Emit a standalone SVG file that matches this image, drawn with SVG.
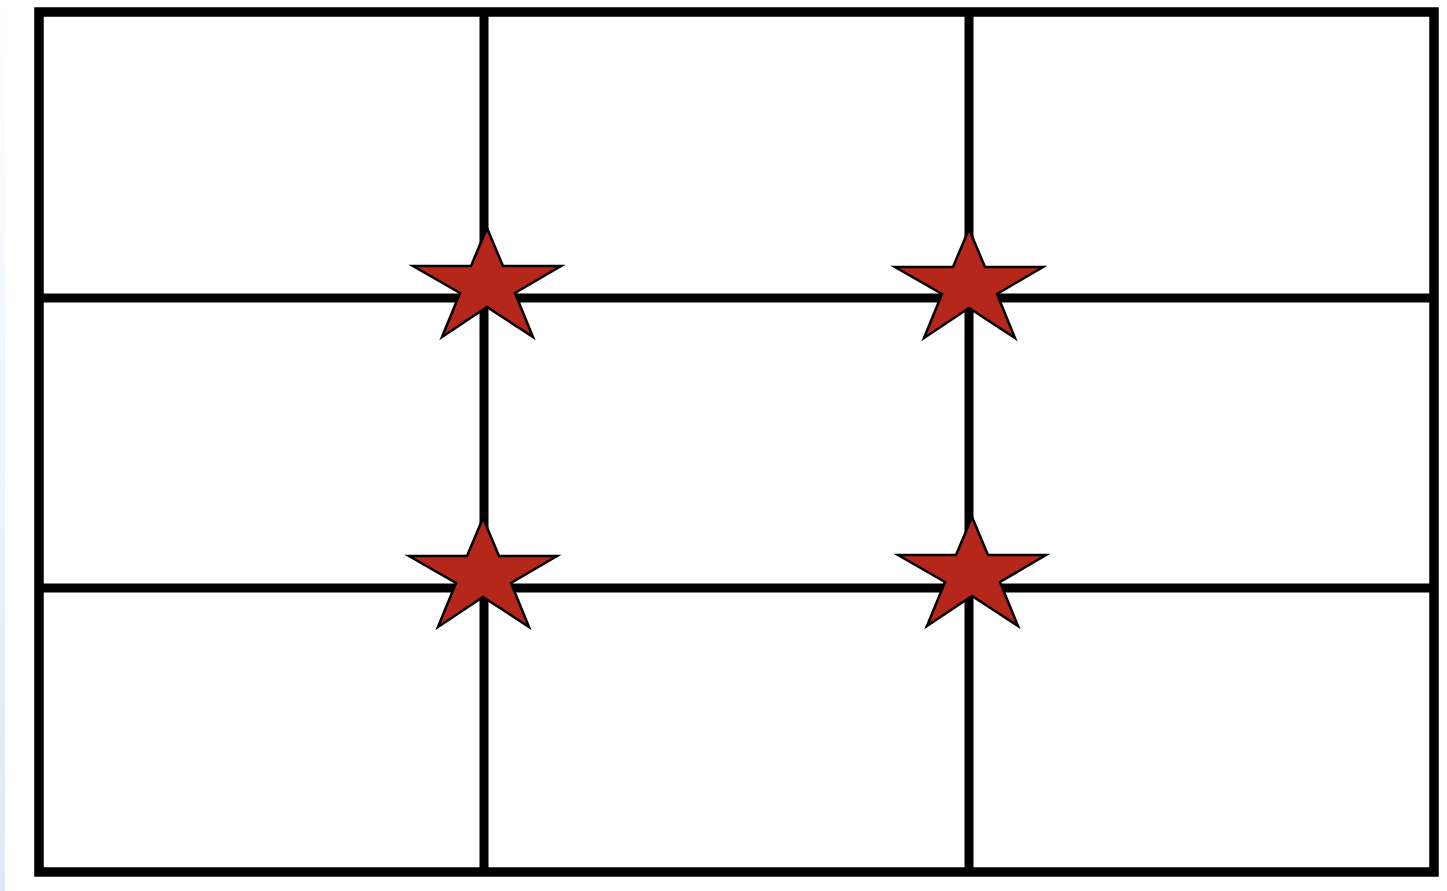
<svg xmlns="http://www.w3.org/2000/svg" width="1447" height="891" viewBox="0 0 1447 891">
<style>
.grid{stroke:#000;stroke-width:9;fill:none}
.outer{stroke:#000;stroke-width:9.5;fill:none}
.star{fill:#b5271b;stroke:#000;stroke-width:2.5;stroke-linejoin:miter}
</style>
<defs>
<linearGradient id="edge" x1="0" y1="0" x2="0" y2="1">
<stop offset="0" stop-color="#ffffff"/>
<stop offset="1" stop-color="#dce9f4"/>
</linearGradient>
<path id="star" d="M0,0 L16,38 L74,38 L28,65 L46,109 L0,79 L-45,109 L-27,65 L-74,38 L-16,38 Z"/>
</defs>
<rect width="1447" height="891" fill="#fff"/>
<rect x="0" y="0" width="5" height="891" fill="url(#edge)"/>
<g id="grid">
<rect class="outer" x="39" y="12" width="1395" height="860"/>
<line class="grid" x1="484" y1="12" x2="484" y2="872"/>
<line class="grid" x1="969" y1="12" x2="969" y2="872"/>
<line class="grid" x1="39" y1="298" x2="1434" y2="298"/>
<line class="grid" x1="39" y1="588" x2="1434" y2="588"/>
</g>
<g id="star1"><use href="#star" class="star" transform="translate(487,228)"/></g>
<g id="star2"><use href="#star" class="star" transform="translate(969,229)"/></g>
<g id="star3"><use href="#star" class="star" transform="translate(483,518)"/></g>
<g id="star4"><use href="#star" class="star" transform="translate(972,517)"/></g>
</svg>
